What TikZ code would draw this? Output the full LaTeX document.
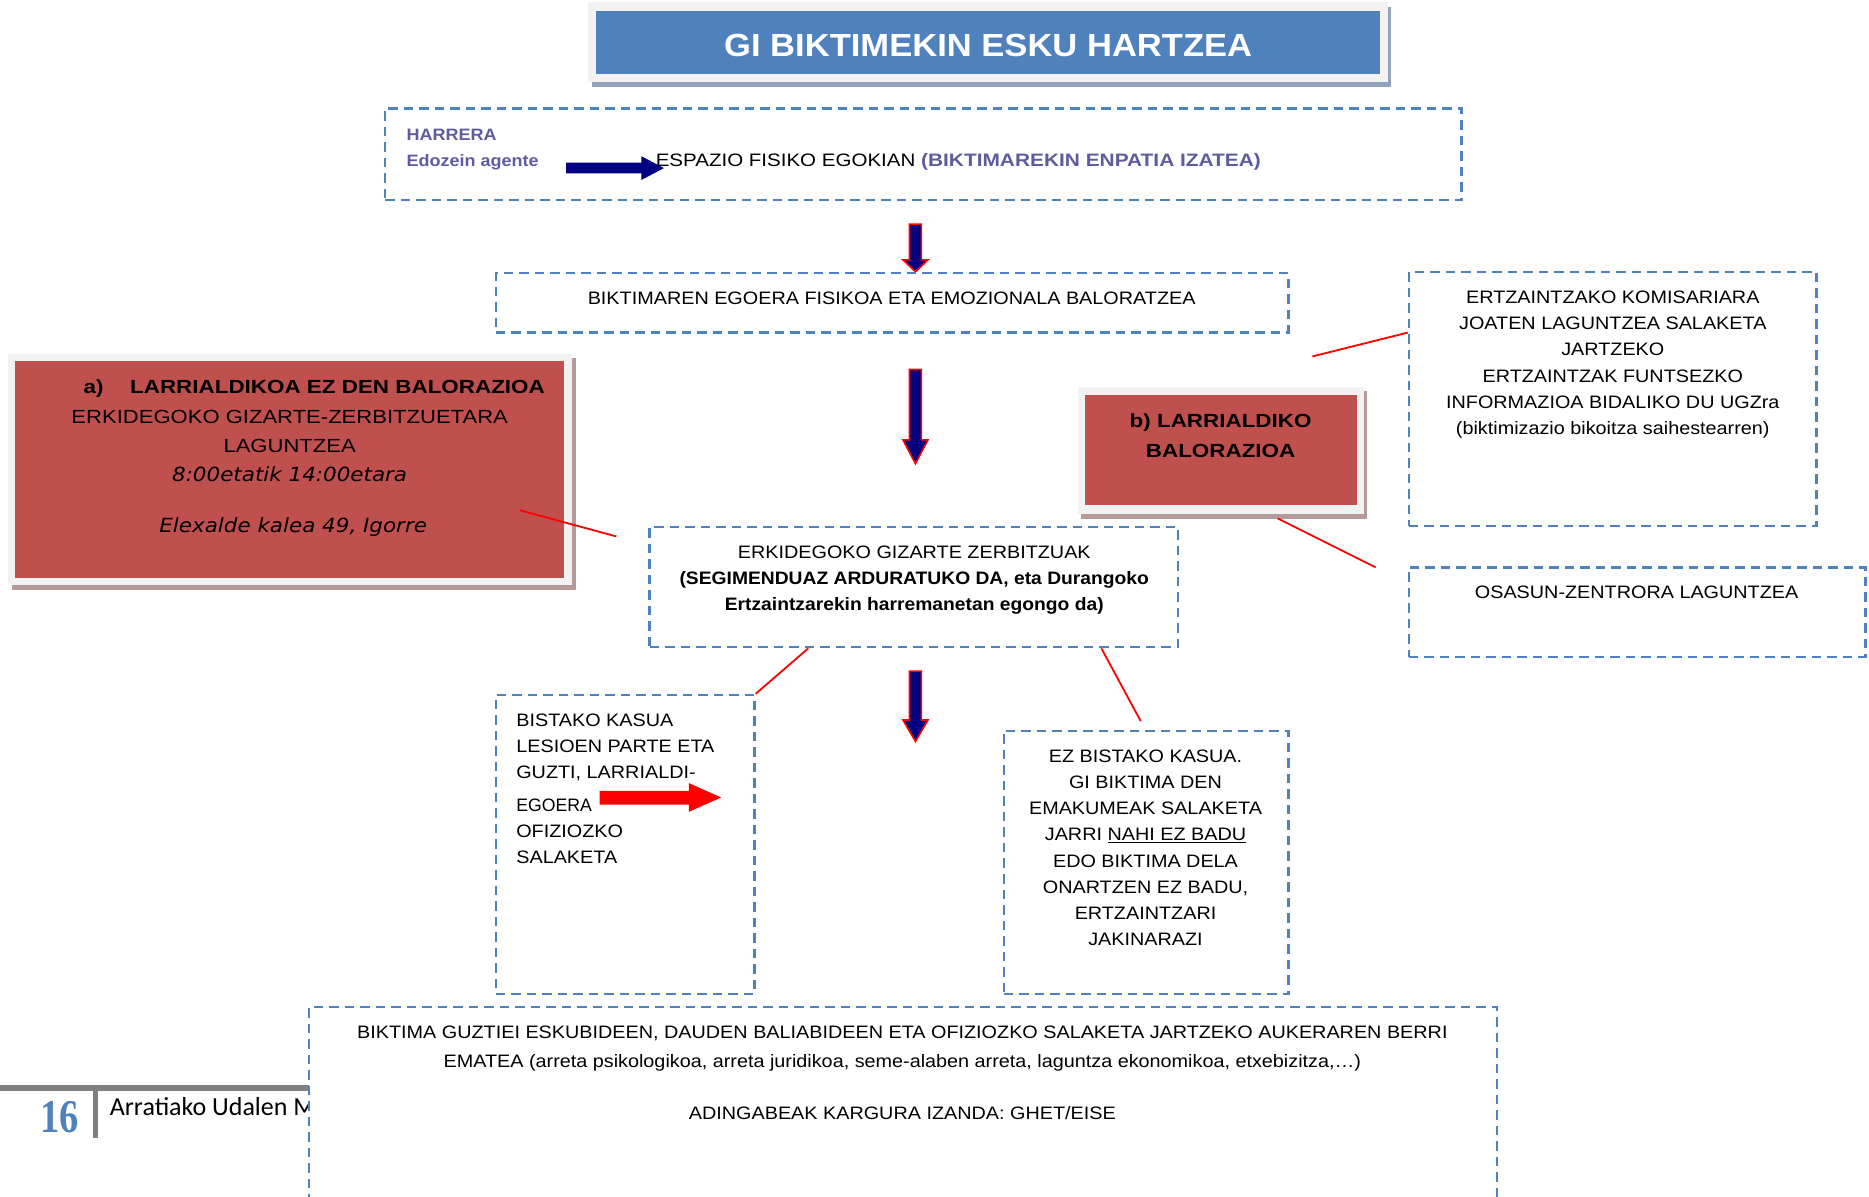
\documentclass[tikz,border=0pt]{standalone}
\usepackage{fontspec}
\setmainfont{Liberation Sans}[FakeStretch=1.1]
\newfontfamily\bodyb{Liberation Sans}[FakeStretch=1.07]
\newfontfamily\reda{Liberation Sans}[FakeStretch=1.16]
\newfontfamily\redab{Liberation Sans}[FakeStretch=1.18]
\newfontfamily\titlef{Liberation Sans}[FakeStretch=1.08]
\newfontfamily\purpf{Liberation Sans}[FakeStretch=1.16]
\newfontfamily\harrf{Liberation Sans}[FakeStretch=1.09]
\newfontfamily\espf{Liberation Sans}[FakeStretch=1.14]
\newfontfamily\narrowf{Liberation Sans}[FakeStretch=0.98]
\newfontfamily\verd{DejaVu Sans}[FakeStretch=1.1]
\newfontfamily\calib{Carlito}
\newfontfamily\serifb{Liberation Serif}
\usetikzlibrary{fit}
\definecolor{boxblue}{HTML}{4F81BD}
\definecolor{boxred}{HTML}{C0504D}
\definecolor{framegray}{HTML}{F2F2F2}
\definecolor{redshadow}{HTML}{B59A9A}
\definecolor{blueshadow}{HTML}{93A3BA}
\definecolor{purp}{HTML}{5F5B9E}
\definecolor{navy}{HTML}{000080}
\definecolor{footgray}{HTML}{808080}
\newcommand\navydown[4]{%
  \filldraw[navyarrow] (#1-5,#2) -- (#1+5,#2) -- (#1+5,#3) -- (#1+10.5,#3) -- (#1,#4) -- (#1-10.5,#3) -- (#1-5,#3) -- cycle;}
\begin{document}
\begin{tikzpicture}[x=1.192pt,y=-1.192pt,
  dbox/.style={draw=boxblue, line width=2.3pt, dash pattern=on 9.5pt off 6pt, inner sep=0pt},
  txt/.style={font=\fontsize{18}{22}\selectfont, inner sep=0pt, anchor=base},
  txtl/.style={txt, anchor=base west},
  btxt/.style={txt, font=\bodyb\bfseries\fontsize{18}{22}\selectfont},
  redtxt/.style={inner sep=0pt, anchor=base, font=\reda\fontsize{19}{23}\selectfont},
  redbtxt/.style={redtxt, font=\redab\bfseries\fontsize{19}{23}\selectfont},
  itxt/.style={redtxt, font=\verd\itshape\fontsize{19.5}{23}\selectfont},
  redline/.style={draw=red, line width=1.8pt},
  navyarrow/.style={fill=navy, draw=red, line width=1.6pt, line join=miter},
]
\useasboundingbox (0,0) rectangle (1567.95,1003.36);

% ---------- title ----------
\fill[blueshadow] (497,6) rectangle (1167,73);
\fill[framegray] (493,2) rectangle (1164,69);
\node[fill=boxblue, fit={(500,9) (1158,62)}, inner sep=0pt] (title) {};
\node[inner sep=0pt, anchor=base, text=white, font=\titlef\bfseries\fontsize{32}{36}\selectfont] (titletxt) at (829,47) {GI BIKTIMEKIN ESKU HARTZEA};

% ---------- harrera ----------
\node[dbox, fit={(323,91) (1226,168)}] (harrera) {};
\node[txtl, text=purp, font=\harrf\bfseries\fontsize{16.5}{20}\selectfont] (harr1) at (341,118) {HARRERA};
\node[txtl, text=purp, font=\harrf\bfseries\fontsize{16.5}{20}\selectfont] (harr2) at (341,140) {Edozein agente};
\fill[navy] (475,136.5) -- (538,136.5) -- (538,131) -- (557,141) -- (538,151) -- (538,145.5) -- (475,145.5) -- cycle;
\node[txtl, font=\espf\fontsize{18}{22}\selectfont] (espazio) at (550,139.5) {ESPAZIO FISIKO EGOKIAN \textcolor{purp}{\purpf\bfseries (BIKTIMAREKIN ENPATIA IZATEA)}};

% ---------- arrows ----------
\navydown{768}{188}{218}{228}
\navydown{768}{310}{369}{389}
\navydown{768}{563}{604}{622}

% ---------- biktimaren ----------
\node[dbox, fit={(416,229) (1081,279)}] (bikt) {};
\node[txt] (bikttxt) at (748,255.5) {BIKTIMAREN EGOERA FISIKOA ETA EMOZIONALA BALORATZEA};

% ---------- box a ----------
\fill[redshadow] (10,300) rectangle (483,495);
\fill[framegray] (7,297) rectangle (480,491);
\node[fill=boxred, fit={(13,303) (473,485)}, inner sep=0pt] (boxa) {};
\node[redbtxt, anchor=base west] (a0) at (70,330.5) {a)};
\node[redbtxt, anchor=base west] (a1) at (109,330.5) {LARRIALDIKOA EZ DEN BALORAZIOA};
\node[redtxt] (a2) at (243,355.5) {ERKIDEGOKO GIZARTE-ZERBITZUETARA};
\node[redtxt] (a3) at (243,379.5) {LAGUNTZEA};
\node[itxt] (a4) at (243,404) {8:00etatik 14:00etara};
\node[itxt] (a5) at (246,447) {Elexalde kalea 49, Igorre};

% ---------- box b ----------
\fill[redshadow] (907,328) rectangle (1147,435);
\fill[framegray] (904,325) rectangle (1144,431);
\node[fill=boxred, fit={(910,331) (1138,424)}, inner sep=0pt] (boxb) {};
\node[redbtxt] (b1) at (1024,358.5) {b) LARRIALDIKO};
\node[redbtxt] (b2) at (1024,383.5) {BALORAZIOA};

% ---------- ertzaintza ----------
\node[dbox, fit={(1182,228) (1524,441)}] (ertz) {};
\foreach \t [count=\i from 0] in {ERTZAINTZAKO KOMISARIARA, JOATEN LAGUNTZEA SALAKETA, JARTZEKO, ERTZAINTZAK FUNTSEZKO, INFORMAZIOA BIDALIKO DU UGZra, {(biktimizazio bikoitza saihestearren)}}
  \node[txt] (ertz\i) at (1353,254.5+22*\i) {\t};

% ---------- osasun ----------
\node[dbox, fit={(1182,476) (1565,551)}] (osasun) {};
\node[txt] (osasuntxt) at (1373,502.5) {OSASUN-ZENTRORA LAGUNTZEA};

% ---------- erkidegoko ----------
\node[dbox, fit={(545,442) (988,543)}] (erk) {};
\node[txt] (erk1) at (767,468.5) {ERKIDEGOKO GIZARTE ZERBITZUAK};
\node[btxt] (erk2) at (767,490.5) {(SEGIMENDUAZ ARDURATUKO DA, eta Durangoko};
\node[btxt] (erk3) at (767,512.5) {Ertzaintzarekin harremanetan egongo da)};

% ---------- bistako ----------
\node[dbox, fit={(416,583) (633,834)}] (bist) {};
\node[txtl] (bs1) at (433,609.5) {BISTAKO KASUA};
\node[txtl] (bs2) at (433,631.5) {LESIOEN PARTE ETA};
\node[txtl] (bs3) at (433,653.5) {GUZTI, LARRIALDI-};
\node[txtl, font=\narrowf\fontsize{18}{22}\selectfont] (bs4) at (433,680.5) {EGOERA};
\node[txtl] (bs5) at (433,702.5) {OFIZIOZKO};
\node[txtl] (bs6) at (433,724.5) {SALAKETA};
\fill[red] (503,663.5) -- (578,663.5) -- (578,657) -- (605,669) -- (578,681) -- (578,675) -- (503,675) -- cycle;

% ---------- ez bistako ----------
\node[dbox, fit={(842,613) (1081,834)}] (ezb) {};
\foreach \t [count=\i from 0] in {EZ BISTAKO KASUA., GI BIKTIMA DEN, EMAKUMEAK SALAKETA, {JARRI \underline{NAHI EZ BADU}}, EDO BIKTIMA DELA, {ONARTZEN EZ BADU,}, ERTZAINTZARI, JAKINARAZI}
  \node[txt] (ezb\i) at (961,639.5+22*\i) {\t};

% ---------- red connector lines ----------
\coordinate (la1) at (436,428);
\coordinate (la2) at (517,450);
\draw[redline] (la1) -- (la2);
\coordinate (lb1) at (1101,299);
\draw[redline] (lb1) -- (ertz.west |- 0,279);
\coordinate (lc1) at (1072,435);
\coordinate (lc2) at (1154,476);
\draw[redline] (lc1) -- (lc2);
\draw[redline] (erk.south -| 678,0) -- (bist.north east);
\coordinate (le2) at (957,605);
\draw[redline] (erk.south -| 924,0) -- (le2);

% ---------- footer ----------
\fill[footgray] (0,910) rectangle (259,915);
\fill[footgray] (78,912) rectangle (82,955);
\node[inner sep=0pt, anchor=base, text=boxblue, font=\serifb\bfseries\fontsize{47}{47}\selectfont] (page) at (50,950) {\scalebox{0.82}[1]{16}};
\begin{scope}
\clip (85,900) rectangle (259,960);
\node[inner sep=0pt, anchor=base west, font=\calib\fontsize{26}{30}\selectfont] (foottxt) at (92,936) {Arratiako Udalen M};
\end{scope}

% ---------- bottom box ----------
\path[fill=white] (259,845) rectangle (1256,1010);
\draw[draw=boxblue, line width=2.3pt, dash pattern=on 9.5pt off 6pt] (259,1010) -- (259,845) -- (1256,845) -- (1256,1010);
\node[txt] (bot1) at (757,871.5) {BIKTIMA GUZTIEI ESKUBIDEEN, DAUDEN BALIABIDEEN ETA OFIZIOZKO SALAKETA JARTZEKO AUKERAREN BERRI};
\node[txt] (bot2) at (757,895.5) {EMATEA (arreta psikologikoa, arreta juridikoa, seme-alaben arreta, laguntza ekonomikoa, etxebizitza,…)};
\node[txt] (bot3) at (757,939.5) {ADINGABEAK KARGURA IZANDA: GHET/EISE};
\end{tikzpicture}
\end{document}
